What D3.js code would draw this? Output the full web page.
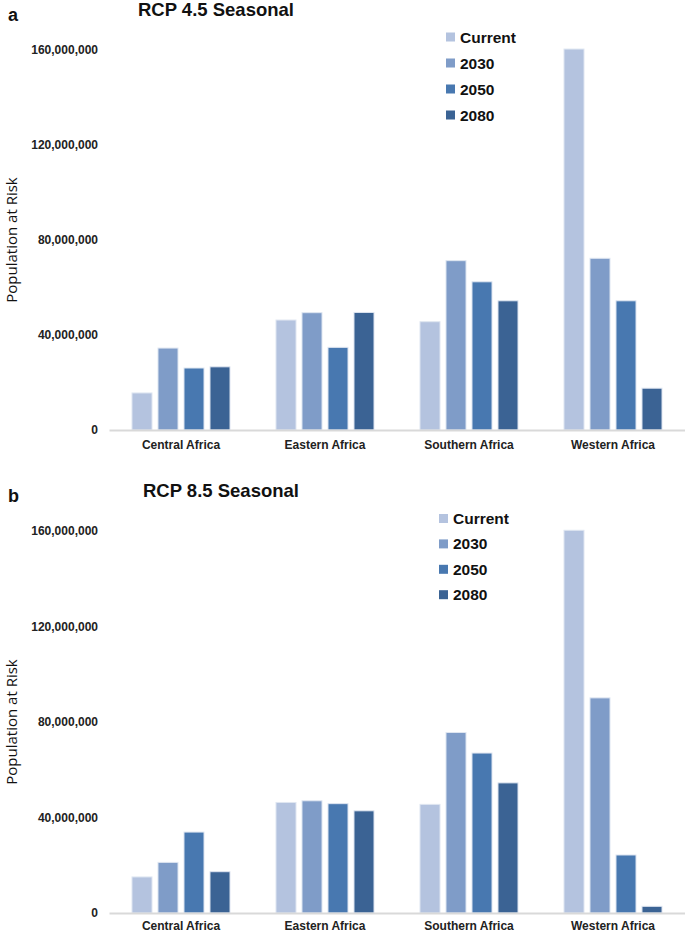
<!DOCTYPE html>
<html>
<head>
<meta charset="utf-8">
<script src="https://cdn.jsdelivr.net/npm/d3@7.9.0/dist/d3.min.js"></script>
<style>
  body { margin: 0; background: #fff; }
  svg { display: block; font-family: "Liberation Sans", Arial, sans-serif; }
</style>
</head>
<body>
<svg id="chart" width="685" height="933"></svg>
<script>
const regions = ['Central Africa', 'Eastern Africa', 'Southern Africa', 'Western Africa'];
const periods = ['Current', '2030', '2050', '2080'];
const yTicks = [0, 40000000, 80000000, 120000000, 160000000];

// RCP 4.5 seasonal, population at risk per region
const rcp45Current = [15600000, 46300000, 45600000, 160400000];
const rcp45y2030 = [34500000, 49400000, 71300000, 72300000];
const rcp45y2050 = [26100000, 34800000, 62400000, 54400000];
const rcp45y2080 = [26600000, 49500000, 54400000, 17600000];

// RCP 8.5 seasonal
const rcp85Current = [15100000, 46300000, 45500000, 160300000];
const rcp85y2030 = [21200000, 47000000, 75600000, 90100000];
const rcp85y2050 = [33900000, 45800000, 67000000, 24300000];
const rcp85y2080 = [17300000, 42800000, 54500000, 2800000];

const colors = d3.scaleOrdinal()
  .domain(periods)
  .range(['#b4c3df', '#7f9cc8', '#4878b0', '#3b6394']);

const svg = d3.select('#chart');

const x0 = d3.scaleBand().domain(regions).range([109, 685]);
const x1 = d3.scaleBand().domain(periods)
  .range([20, 124]).paddingInner(0.23).paddingOuter(0.115);

function drawPanel(p) {
  const series = [p.current, p.y2030, p.y2050, p.y2080];
  const y = d3.scaleLinear().domain([0, 160000000]).range([p.base, p.top]);
  const g = svg.append('g');

  g.append('text')
    .attr('x', 8).attr('y', p.letterY)
    .attr('font-size', 18).attr('font-weight', 'bold').attr('fill', '#111')
    .text(p.letter);

  g.append('text')
    .attr('x', p.titleX).attr('y', p.titleY)
    .attr('font-size', 18.5).attr('font-weight', 'bold').attr('fill', '#111')
    .text(p.title);

  // y axis labels only
  const ya = g.append('g')
    .attr('transform', `translate(109,0)`)
    .call(d3.axisLeft(y).tickValues(yTicks).tickFormat(d3.format(',')).tickSize(0).tickPadding(11));
  ya.select('.domain').remove();
  ya.selectAll('text')
    .attr('font-size', 12).attr('font-weight', 'bold').attr('fill', '#222')
    .attr('font-family', '"Liberation Sans", Arial, sans-serif');

  g.append('text')
    .attr('transform', `translate(16.5,${(p.base + p.top) / 2}) rotate(-90)`)
    .attr('text-anchor', 'middle')
    .attr('font-size', 15).attr('fill', '#111')
    .attr('font-family', '"Open Sans", sans-serif')
    .text('Population at Risk');

  // bars
  regions.forEach((r, i) => {
    periods.forEach((k, j) => {
      const v = series[j][i];
      g.append('rect')
        .attr('x', x0(r) + x1(k))
        .attr('y', y(v))
        .attr('width', x1.bandwidth())
        .attr('height', y(0) - y(v))
        .attr('fill', colors(k))
        .attr('stroke', '#dfe6f1')
        .attr('stroke-width', 1);
    });
  });

  const xa = g.append('g')
    .attr('transform', `translate(0,${p.base})`)
    .call(d3.axisBottom(x0).tickSize(0).tickPadding(p.xPad));
  xa.select('.domain').attr('stroke', '#d9d9d9').attr('stroke-width', 2);
  xa.selectAll('text')
    .attr('font-size', 12).attr('font-weight', 'bold').attr('fill', '#222')
    .attr('font-family', '"Liberation Sans", Arial, sans-serif');

  // legend
  const lg = g.append('g').attr('transform', `translate(${p.legendX},${p.legendY})`);
  periods.forEach((k, j) => {
    const row = lg.append('g').attr('transform', `translate(0,${j * p.legendStep})`);
    row.append('rect')
      .attr('x', 0).attr('y', -4.5).attr('width', 9).attr('height', 9)
      .attr('fill', colors(k));
    row.append('text')
      .attr('x', 14).attr('y', 0).attr('dy', '0.36em')
      .attr('font-size', 15.5).attr('font-weight', 'bold').attr('fill', '#111')
      .text(k);
  });
}

drawPanel({
  letter: 'a', letterY: 21, title: 'RCP 4.5 Seasonal', titleX: 138, titleY: 16,
  current: rcp45Current, y2030: rcp45y2030, y2050: rcp45y2050, y2080: rcp45y2080,
  base: 430, top: 50, legendX: 446, legendY: 37, legendStep: 26, xPad: 10.5
});

drawPanel({
  letter: 'b', letterY: 502, title: 'RCP 8.5 Seasonal', titleX: 143, titleY: 497,
  current: rcp85Current, y2030: rcp85y2030, y2050: rcp85y2050, y2080: rcp85y2080,
  base: 913, top: 531, legendX: 439, legendY: 518.5, legendStep: 25.4, xPad: 8.5
});
</script>
</body>
</html>
